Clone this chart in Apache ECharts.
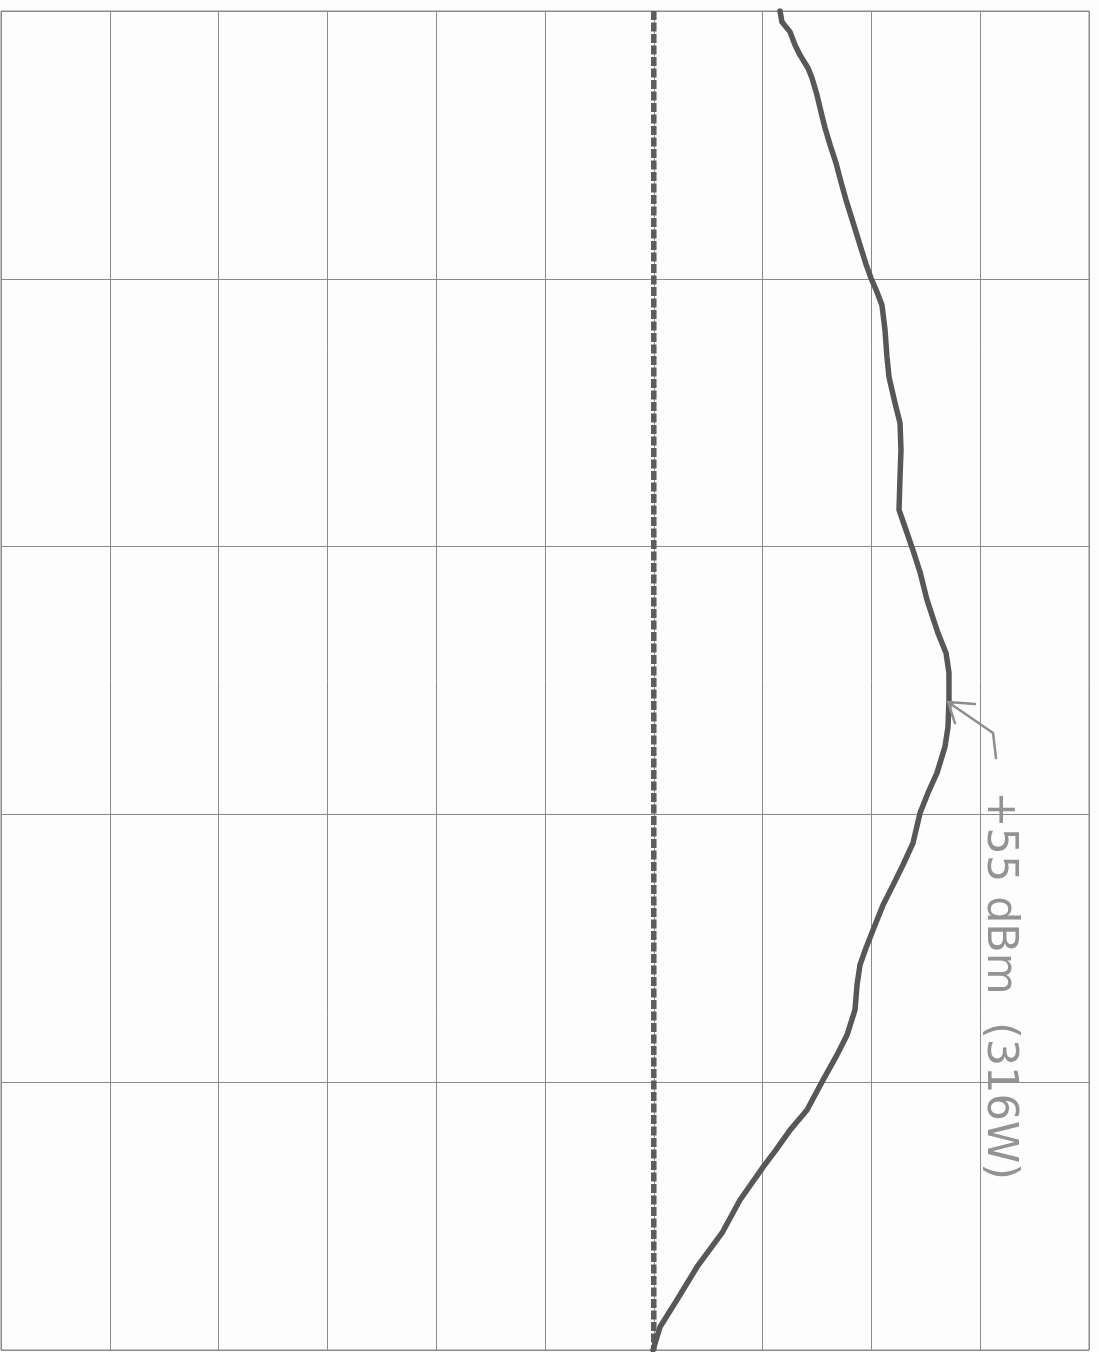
<!DOCTYPE html>
<html>
<head>
<meta charset="utf-8">
<style>
  html, body { margin: 0; padding: 0; background: #fdfdfd; }
  #chart { width: 1099px; height: 1352px; }
</style>
<script src="https://cdn.jsdelivr.net/npm/echarts@6/dist/echarts.min.js"></script>
</head>
<body>
<div id="chart"></div>
<script>
// Horizontal position in grid divisions (0..10), vertical position in grid rows (0..5, from top)
const curveX = [7.160, 7.178, 7.252, 7.298, 7.343, 7.417, 7.454, 7.500, 7.537, 7.574, 7.620, 7.675, 7.721,
                7.767, 7.813, 7.858, 7.904, 7.950, 7.996, 8.051, 8.097, 8.125, 8.143, 8.162, 8.217, 8.263,
                8.272, 8.263, 8.254, 8.318, 8.382, 8.447, 8.511, 8.612, 8.686, 8.713, 8.713, 8.704, 8.676,
                8.603, 8.520, 8.447, 8.382, 8.290, 8.199, 8.107, 8.015, 7.950, 7.895, 7.868, 7.849, 7.776,
                7.684, 7.555, 7.408, 7.252, 7.123, 7.004, 6.792, 6.627, 6.397, 6.213, 6.057, 5.993];
const curveY = [0.000, 0.041, 0.078, 0.127, 0.164, 0.213, 0.250, 0.314, 0.377, 0.437, 0.500, 0.568, 0.639,
                0.706, 0.766, 0.825, 0.885, 0.945, 0.997, 1.049, 1.098, 1.191, 1.292, 1.367, 1.464, 1.538,
                1.639, 1.740, 1.863, 1.938, 2.013, 2.095, 2.199, 2.323, 2.397, 2.472, 2.573, 2.674, 2.748,
                2.845, 2.920, 2.995, 3.107, 3.189, 3.264, 3.338, 3.432, 3.499, 3.562, 3.637, 3.730, 3.824,
                3.898, 3.992, 4.104, 4.179, 4.253, 4.317, 4.440, 4.563, 4.690, 4.813, 4.914, 5.000];
const refLineX = [6, 6];
const refLineY = [0, 5];
// hand-drawn arrow: barb, tip, barb, tip, tail, tick end
const arrowX = [8.952, 8.704, 8.768, 8.704, 9.118, 9.145];
const arrowY = [2.588, 2.580, 2.659, 2.580, 2.696, 2.789];
const annotationText = '+55 dBm  (316W)';
const annotationPos = [9.17, 3.64];

const zip = (a, b) => a.map((v, i) => [v, b[i]]);

const chart = echarts.init(document.getElementById('chart'));
chart.setOption({
  backgroundColor: '#fdfdfd',
  animation: false,
  grid: { left: 1, right: 10, top: 11, bottom: 2, show: true, borderColor: '#8a8a8a', borderWidth: 1 },
  xAxis: {
    type: 'value', min: 0, max: 10, interval: 1,
    axisLine: { show: false }, axisTick: { show: false }, axisLabel: { show: false },
    splitLine: { show: true, lineStyle: { color: '#8a8a8a', width: 1 } }
  },
  yAxis: {
    type: 'value', min: 0, max: 5, interval: 1, inverse: true,
    axisLine: { show: false }, axisTick: { show: false }, axisLabel: { show: false },
    splitLine: { show: true, lineStyle: { color: '#8a8a8a', width: 1 } }
  },
  series: [
    {
      type: 'line', data: zip(refLineX, refLineY), symbol: 'none',
      lineStyle: { color: '#5c5c5c', width: 5.5, type: [9, 2.5] }
    },
    {
      type: 'line', data: zip(curveX, curveY), symbol: 'none', smooth: false,
      lineStyle: { color: '#575757', width: 5.5, cap: 'round', join: 'round' }
    },
    {
      type: 'line', data: zip(arrowX, arrowY), symbol: 'none',
      lineStyle: { color: '#8e8e8e', width: 2.5, cap: 'round', join: 'round' },
      markPoint: {
        symbol: 'circle', symbolSize: 0,
        data: [{ coord: annotationPos, value: annotationText }],
        label: {
          show: true, position: 'inside', rotate: -90,
          formatter: annotationText,
          fontFamily: 'DejaVu Sans', fontSize: 43, color: '#939393'
        }
      }
    }
  ]
});
</script>
</body>
</html>
